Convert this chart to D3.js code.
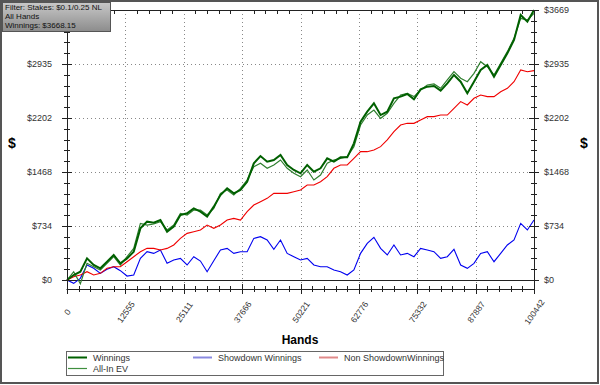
<!DOCTYPE html>
<html>
<head>
<meta charset="utf-8">
<script src="https://cdn.jsdelivr.net/npm/d3@7"></script>
<style>
body { margin: 0; background: #fff; }
svg text { font-family: "Liberation Sans", Arial, sans-serif; }
</style>
</head>
<body>
<div id="chart"></div>
<script>
// hands sampled along the x axis
var hands = [0,1435,2870,4305,5740,7175,8610,10045,11480,12915,14350,15785,17220,18655,20090,21525,22960,24395,25830,27265,
    28700,30135,31570,33005,34440,35875,37310,38745,40180,41615,43050,44485,45920,47355,48790,50225,51660,53095,54530,55965,
    57400,58835,60270,61705,63140,64575,66010,67445,68880,70315,71750,73185,74620,76055,77490,78925,80360,81795,83230,84665,
    86100,87535,88970,90405,91840,93275,94710,96145,97580,99015,100442];

var winnings = [0,68,113,294,204,159,249,340,227,294, 385,702,793,779,815,657,725,883,906,974,
    929,861,997,1155,1246,1178,1223,1336,1586,1685, 1608,1631,1699,1563,1495,1450,1563,1472,1518,1653,
    1608,1667,1667,1857,2152,2288,2401,2242,2288,2469, 2492,2528,2455,2591,2627,2636,2573,2673,2786,2695,
    2537,2695,2854,2922,2763,2922,3080,3262,3601,3511, 3668];

var allInEV = [0,113,-50,227,181,136,227,317,204,317, 430,770,747,761,793,680,747,906,883,951,
    951,883,974,1178,1223,1155,1246,1359,1540,1586, 1518,1563,1631,1518,1450,1404,1495,1359,1427,1586,
    1631,1653,1676,1812,2106,2242,2310,2197,2265,2401, 2514,2537,2492,2582,2650,2664,2605,2718,2831,2741,
    2695,2809,2967,2899,2786,2945,3103,3284,3556,3533, 3624];

var showdown = [0,-45,23,204,159,91,145,181,127,54, 68,294,385,362,408,227,272,294,204,317,
    258,113,263,408,430,362,385,385,566,589, 544,417,544,362,317,272,294,204,181,181,
    136,113,68,136,362,498,580,430,340,476, 340,362,317,430,408,385,294,317,417,204,
    159,227,362,385,249,362,476,544,770,680, 815];

var nonShowdown = [0,45,68,113,68,91,159,181,181,249, 317,385,430,430,408,430,476,566,634,657,
    680,747,702,747,815,838,815,929,1019,1065, 1110,1178,1178,1178,1200,1223,1291,1291,1336,1404,
    1518,1563,1563,1653,1744,1744,1767,1812,1903,2016, 2106,2129,2129,2174,2220,2220,2242,2242,2333,2424,
    2378,2469,2514,2492,2492,2559,2605,2695,2854,2831, 2845];

var xTicks = [0,12555,25111,37666,50221,62776,75332,87887,100442];
var yTicks = [0,734,1468,2202,2935,3669];
var filterLines = ["Filter: Stakes: $0.1/0.25 NL", "All Hands", "Winnings: $3668.15"];

var width = 600, height = 385;
var plot = {left: 67, right: 534, top: 10, bottom: 289};

var svg = d3.select("#chart").append("svg")
    .attr("width", width)
    .attr("height", height);

svg.append("rect")
    .attr("x", 1).attr("y", 1)
    .attr("width", width - 3).attr("height", height - 3)
    .attr("fill", "#fff")
    .attr("stroke", "#555")
    .attr("stroke-width", 2);

var x = d3.scaleLinear().domain([0, 100442]).range([plot.left, plot.right]);
var y = d3.scaleLinear().domain([-122, 3669]).range([plot.bottom, plot.top]);

// minor ticks, 4 between each pair of majors
var xMinor = [], yMinor = [];
for (var i = 0; i < xTicks.length - 1; i++) {
    for (var k = 1; k < 5; k++) xMinor.push(xTicks[i] + (xTicks[i + 1] - xTicks[i]) * k / 5);
}
for (var j = 0; j < yTicks.length - 1; j++) {
    for (var m = 1; m < 5; m++) yMinor.push(yTicks[j] + (yTicks[j + 1] - yTicks[j]) * m / 5);
}

// grid
var grid = svg.append("g").attr("stroke", "#888").attr("stroke-dasharray", "1,3").attr("stroke-width", 1);
grid.selectAll(".gx").data(xTicks.slice(1, -1)).enter().append("line")
    .attr("x1", function(d) { return Math.round(x(d)) + 0.5; })
    .attr("x2", function(d) { return Math.round(x(d)) + 0.5; })
    .attr("y1", plot.top).attr("y2", plot.bottom);
grid.selectAll(".gy").data(yTicks.slice(1, -1)).enter().append("line")
    .attr("y1", function(d) { return Math.round(y(d)) + 0.5; })
    .attr("y2", function(d) { return Math.round(y(d)) + 0.5; })
    .attr("x1", plot.left).attr("x2", plot.right);

// zero line
svg.append("line")
    .attr("x1", plot.left).attr("x2", plot.right)
    .attr("y1", Math.round(y(0)) + 0.5).attr("y2", Math.round(y(0)) + 0.5)
    .attr("stroke", "#222");

// series
function line(vals) {
    return d3.line()
        .x(function(d, i) { return x(hands[i]); })
        .y(function(d) { return y(d); })(vals);
}
svg.append("path").attr("d", line(showdown)).attr("fill", "none").attr("stroke", "#0000f0").attr("stroke-width", 1.1);
svg.append("path").attr("d", line(nonShowdown)).attr("fill", "none").attr("stroke", "#f00000").attr("stroke-width", 1.1);
svg.append("path").attr("d", line(allInEV)).attr("fill", "none").attr("stroke", "#2f7f2f").attr("stroke-width", 1.2);
svg.append("path").attr("d", line(winnings)).attr("fill", "none").attr("stroke", "#006000").attr("stroke-width", 2);

// frame + axes
var axisG = svg.append("g").attr("stroke", "#222").attr("stroke-width", 1);
axisG.append("line").attr("x1", plot.left - 0.5).attr("x2", plot.right + 0.5).attr("y1", plot.bottom + 0.5).attr("y2", plot.bottom + 0.5);
axisG.append("line").attr("x1", plot.left - 0.5).attr("x2", plot.right + 0.5).attr("y1", plot.top + 0.5).attr("y2", plot.top + 0.5);
axisG.append("line").attr("x1", plot.left + 0.5).attr("x2", plot.left + 0.5).attr("y1", plot.top).attr("y2", plot.bottom);
axisG.append("line").attr("x1", plot.right + 0.5).attr("x2", plot.right + 0.5).attr("y1", plot.top).attr("y2", plot.bottom);

function tickX(vals, len, yPos, dir) {
    axisG.selectAll(null).data(vals).enter().append("line")
        .attr("x1", function(d) { return Math.round(x(d)) + 0.5; })
        .attr("x2", function(d) { return Math.round(x(d)) + 0.5; })
        .attr("y1", yPos - (dir === 0 ? len : 0))
        .attr("y2", yPos + len);
}
function tickY(vals, len, xPos) {
    axisG.selectAll(null).data(vals).enter().append("line")
        .attr("y1", function(d) { return Math.round(y(d)) + 0.5; })
        .attr("y2", function(d) { return Math.round(y(d)) + 0.5; })
        .attr("x1", xPos - len)
        .attr("x2", xPos + len);
}
tickX(xTicks, 5, plot.bottom, 0);
tickX(xMinor, 3, plot.bottom, 0);
tickX(xMinor, 4, plot.top, 1);
tickY(yTicks, 5, plot.left);
tickY(yMinor, 3, plot.left);
tickY(yTicks, 5, plot.right);
tickY(yMinor, 3, plot.right);

// x tick labels
svg.selectAll(".xl").data(xTicks).enter().append("text")
    .attr("transform", function(d) { return "translate(" + (x(d) + 0.5) + ",312) rotate(-55)"; })
    .attr("text-anchor", "middle")
    .attr("dy", "0.35em")
    .attr("font-size", "8.5px")
    .attr("fill", "#333")
    .text(function(d) { return d; });

// y tick labels both sides (top-left one sits under the filter box)
svg.selectAll(".yl").data(yTicks.slice(0, -1)).enter().append("text")
    .attr("x", 52).attr("y", function(d) { return y(d); })
    .attr("dy", "0.35em")
    .attr("text-anchor", "end")
    .attr("font-size", "9px")
    .attr("fill", "#333")
    .text(function(d) { return "$" + d; });
svg.selectAll(".yr").data(yTicks).enter().append("text")
    .attr("x", 544).attr("y", function(d) { return y(d); })
    .attr("dy", "0.35em")
    .attr("font-size", "9px")
    .attr("fill", "#333")
    .text(function(d) { return "$" + d; });

// axis titles
svg.append("text").attr("x", 12).attr("y", 148).attr("text-anchor", "middle")
    .attr("font-size", "14px").attr("font-weight", "bold").text("$");
svg.append("text").attr("x", 584).attr("y", 148).attr("text-anchor", "middle")
    .attr("font-size", "14px").attr("font-weight", "bold").text("$");
svg.append("text").attr("x", 300).attr("y", 344).attr("text-anchor", "middle")
    .attr("font-size", "12px").attr("font-weight", "bold").text("Hands");

// legend
var legend = svg.append("g");
legend.append("rect").attr("x", 66.5).attr("y", 351.5).attr("width", 377).attr("height", 24)
    .attr("fill", "#fff").attr("stroke", "#666");
var legendItems = [
    {name: "Winnings", color: "#006000", w: 2, lx: 68, row: 0},
    {name: "Showdown Winnings", color: "#8a8ae0", w: 2, lx: 193, row: 0},
    {name: "Non ShowdownWinnings", color: "#e08a8a", w: 2, lx: 319, row: 0},
    {name: "All-In EV", color: "#3f8f3f", w: 1.2, lx: 68, row: 1}
];
legendItems.forEach(function(it) {
    var ly = 357.5 + it.row * 11;
    legend.append("line").attr("x1", it.lx).attr("x2", it.lx + 19)
        .attr("y1", ly).attr("y2", ly)
        .attr("stroke", it.color).attr("stroke-width", it.w);
    legend.append("text").attr("x", it.lx + 25).attr("y", ly).attr("dy", "0.35em")
        .attr("font-size", "9px").attr("fill", "#333").text(it.name);
});

// filter box
var defs = svg.append("defs");
var grad = defs.append("linearGradient").attr("id", "fbox").attr("x1", 0).attr("y1", 0).attr("x2", 0).attr("y2", 1);
grad.append("stop").attr("offset", "0%").attr("stop-color", "#c8c8c8");
grad.append("stop").attr("offset", "100%").attr("stop-color", "#8c8c8c");
svg.append("rect").attr("x", 2.5).attr("y", 2.5).attr("width", 108).attr("height", 29)
    .attr("fill", "url(#fbox)").attr("stroke", "#555");
svg.selectAll(".fl").data(filterLines).enter().append("text")
    .attr("x", 5).attr("y", function(d, i) { return 10 + i * 9; })
    .attr("font-size", "8px")
    .attr("fill", "#111")
    .text(function(d) { return d; });
</script>
</body>
</html>
